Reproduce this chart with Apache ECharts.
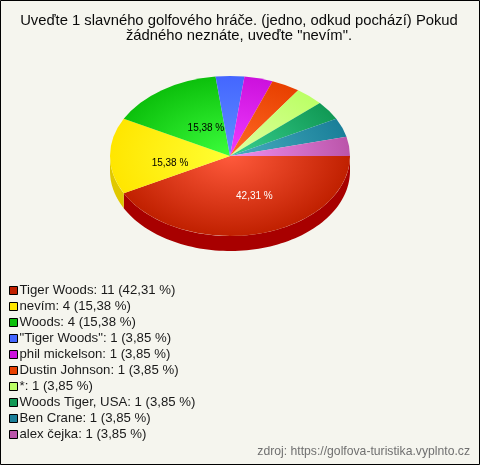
<!DOCTYPE html>
<html><head><meta charset="utf-8">
<style>html,body{margin:0;padding:0;background:#f5f5ee}#c{width:480px;height:465px}</style>
<script src="https://cdn.jsdelivr.net/npm/echarts@6/dist/echarts.min.js"></script>
</head><body><div id="c"></div>
<script>
const titleLines = ['Uveďte 1 slavného golfového hráče. (jedno, odkud pochází) Pokud', 'žádného neznáte, uveďte "nevím".'];
const sourceText = 'zdroj: https://golfova-turistika.vyplnto.cz';
const names = ['Tiger Woods','nevím','Woods','"Tiger Woods"','phil mickelson','Dustin Johnson','*','Woods Tiger, USA','Ben Crane','alex čejka'];
const values = [11,4,4,1,1,1,1,1,1,1];
const percentText = ['42,31 %','15,38 %','15,38 %','3,85 %','3,85 %','3,85 %','3,85 %','3,85 %','3,85 %','3,85 %'];
const edgeColors = ['#c02000','#ffe600','#0cc00c','#4466ff','#cc11dd','#e84000','#bbff66','#119955','#1a7f99','#bb55aa'];
const centerColors = ['#ff5a3c','#ffff33','#3cff3c','#5f8fff','#f03cff','#ff6a26','#e0ffa0','#38d090','#48aec0','#f090f0'];
const sideColors = ['#a80000','#e0c800','#0a9a0a','#3350cc','#a00db0','#b83000','#95cc50','#0d7a44','#14667a','#964488'];

const total = values.reduce((a,b)=>a+b,0);
const CX=230, CY=156, RX=120, RY=80, DEPTH=15;
const MIN_LABEL=0.1;
// nudges of the printed percent labels relative to the slice's mid-radius point
const labelNudge = {0:[10,1],1:[0,7],2:[10,5]};

function startOf(i){let s=0;for(let k=0;k<i;k++)s+=values[k];return s;}

function renderSlice(i){
  return function(params,api){
    const v=api.value(0);
    const a0=startOf(i)/total*2*Math.PI, a1=a0+v/total*2*Math.PI;
    const children=[];
    const w0=Math.max(a0,0), w1=Math.min(a1,Math.PI);
    if(w1>w0){
      const pts=[]; const n=80;
      for(let k=0;k<=n;k++){const a=w0+(w1-w0)*k/n;pts.push([CX+RX*Math.cos(a),CY+RY*Math.sin(a)]);}
      for(let k=n;k>=0;k--){const a=w0+(w1-w0)*k/n;pts.push([CX+RX*Math.cos(a),CY+RY*Math.sin(a)+DEPTH]);}
      children.push({type:'polygon',z2:0,shape:{points:pts},style:{fill:sideColors[i]}});
    }
    children.push({type:'group',x:CX,y:CY,scaleX:1,scaleY:RY/RX,children:[{
      type:'sector',z2:1,
      shape:{cx:0,cy:0,r0:0,r:RX,startAngle:a0,endAngle:a1,clockwise:true},
      style:{fill:{type:'radial',x:0,y:0,r:RX,global:true,colorStops:[{offset:0,color:centerColors[i]},{offset:1,color:edgeColors[i]}]}}
    }]});
    if(v/total>=MIN_LABEL){
      const m=(a0+a1)/2, nd=labelNudge[i]||[0,0];
      children.push({type:'text',z2:10,
        x:CX+0.5*RX*Math.cos(m)+nd[0],y:CY+0.5*RY*Math.sin(m)+nd[1],
        style:{text:percentText[i],fill:i===0?'#ffffff':'#000000',font:'10px "Liberation Sans"',align:'center',verticalAlign:'middle'}});
    }
    return {type:'group',children};
  };
}

const legendLabels = names.map((n,i)=>n+': '+values[i]+' ('+percentText[i]+')');
const chart=echarts.init(document.getElementById('c'),null,{renderer:'canvas'});
chart.setOption({
  animation:false,
  backgroundColor:'#f5f5ee',
  title:[
    {text:titleLines.join('\n'),left:239,top:13,textAlign:'center',padding:0,
     textStyle:{fontFamily:'Liberation Sans',fontSize:14.8,fontWeight:'normal',color:'#0a0a0a',lineHeight:15}},
    {text:sourceText,right:10,top:446,padding:0,
     textStyle:{fontFamily:'Liberation Sans',fontSize:12.2,fontWeight:'normal',color:'#707070'}}
  ],
  legend:{
    orient:'vertical',left:9,top:284,itemWidth:8,itemHeight:8,itemGap:3,padding:0,
    icon:'rect',selectedMode:false,
    itemStyle:{borderColor:'#000',borderWidth:1},
    data:legendLabels,
    textStyle:{fontFamily:'Liberation Sans',fontSize:13.2,color:'#1a1a1a',padding:[0,0,0,-3],lineHeight:13}
  },
  series:names.map((n,i)=>({
    type:'custom',name:legendLabels[i],coordinateSystem:'none',
    data:[[values[i]]],
    itemStyle:{color:edgeColors[i]},
    renderItem:renderSlice(i),
    silent:true
  })),
  graphic:[{type:'rect',shape:{x:0.5,y:0.5,width:479,height:464},style:{fill:null,stroke:'#000',lineWidth:1},silent:true,z:100}]
});
</script></body></html>
